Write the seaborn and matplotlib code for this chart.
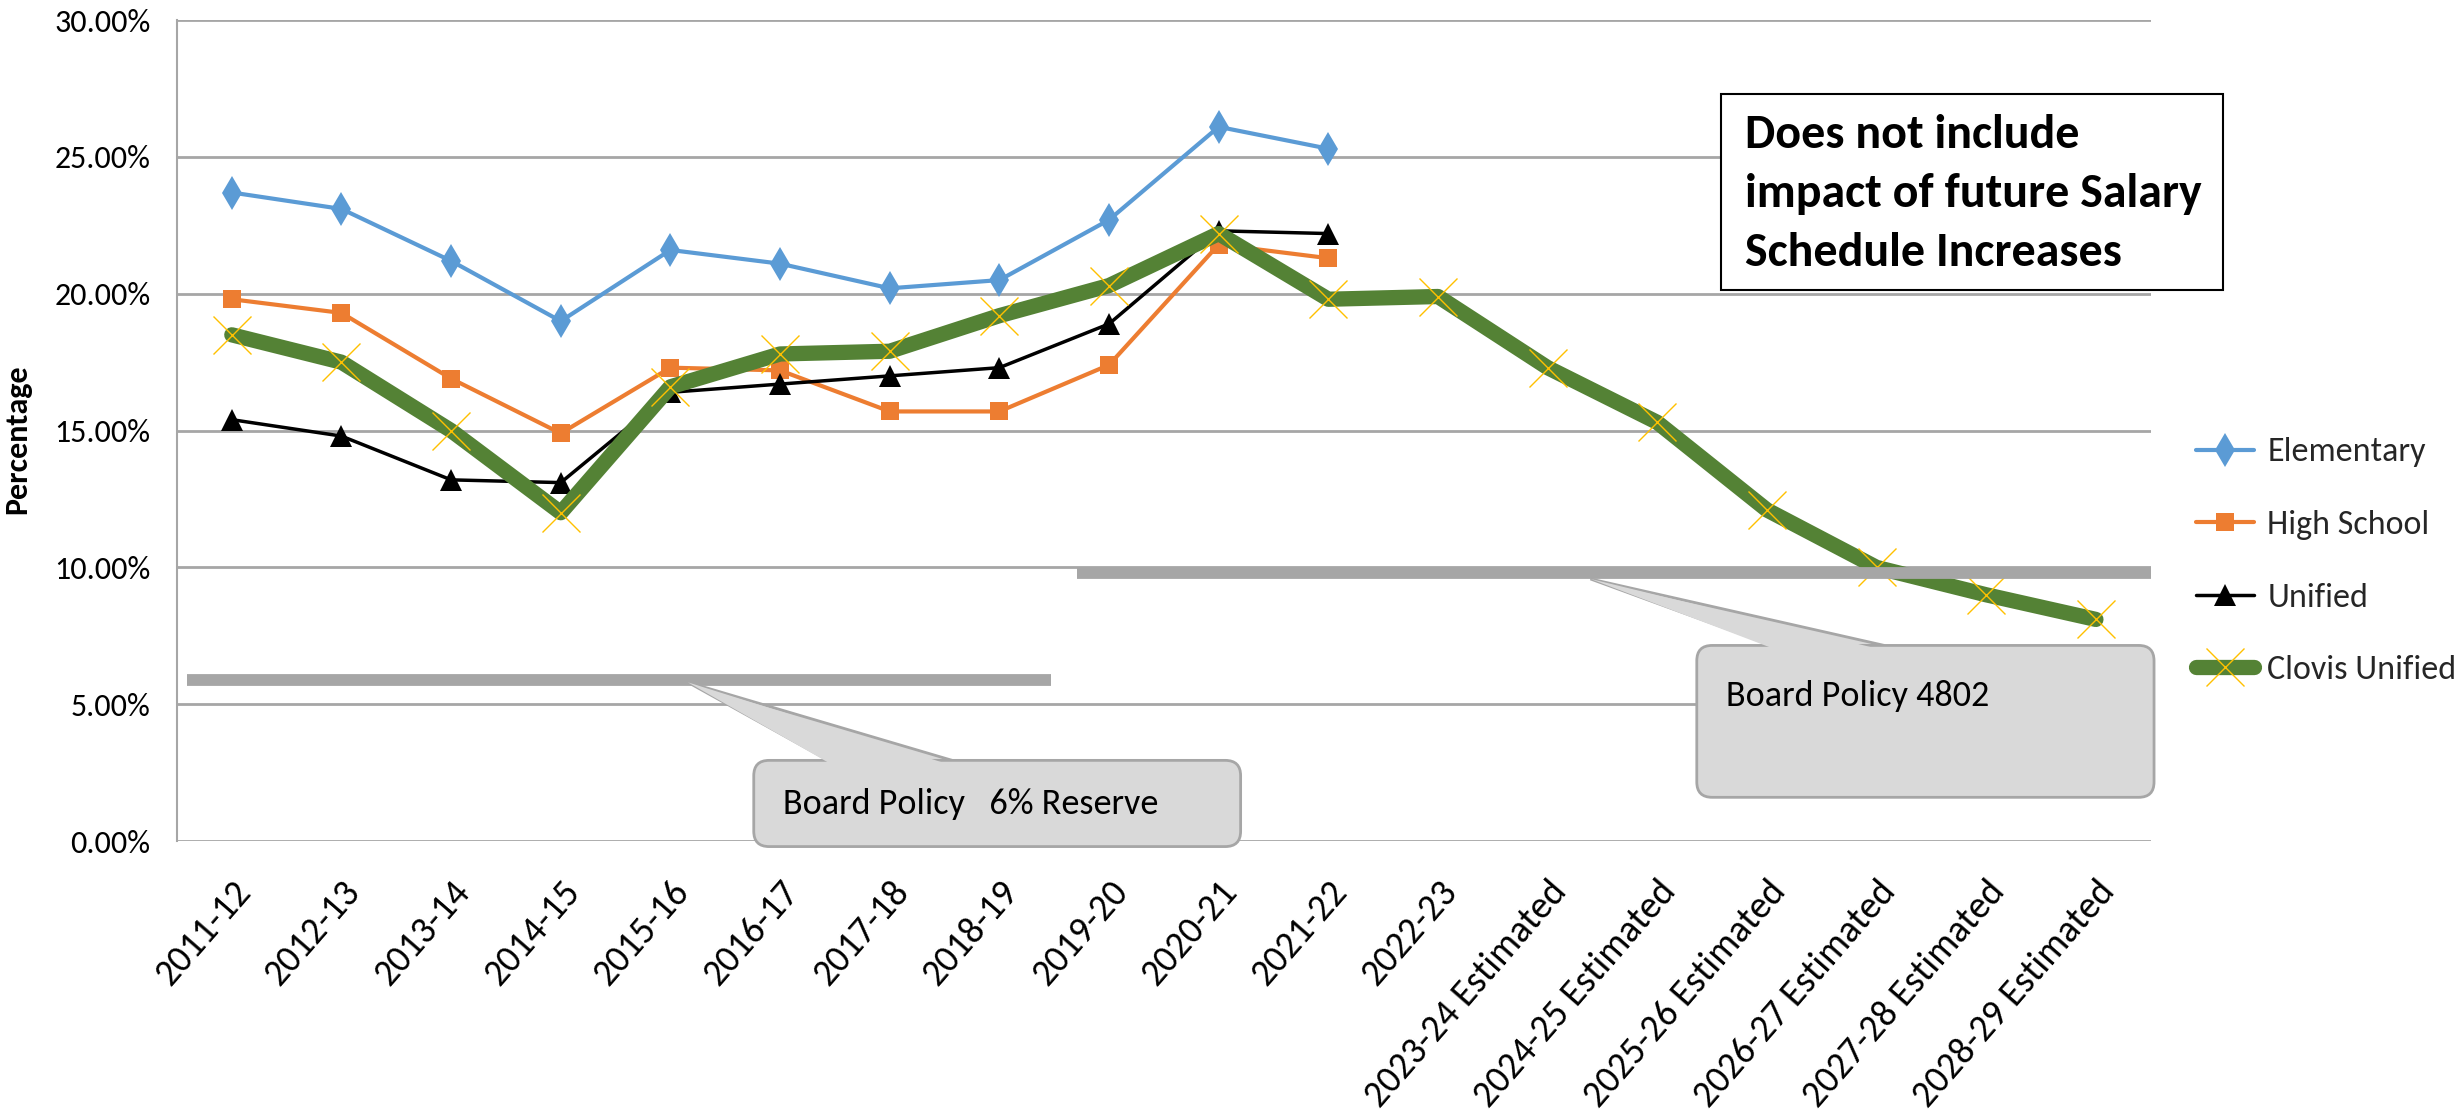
import numpy as np
import pandas as pd
import matplotlib
matplotlib.use('Agg')
import matplotlib.pyplot as plt
import seaborn as sns
from matplotlib.patches import FancyBboxPatch, Polygon, Rectangle

# -----------------------------
# data (percent)
years = ['2011-12', '2012-13', '2013-14', '2014-15', '2015-16', '2016-17',
         '2017-18', '2018-19', '2019-20', '2020-21', '2021-22', '2022-23',
         '2023-24 Estimated', '2024-25 Estimated', '2025-26 Estimated',
         '2026-27 Estimated', '2027-28 Estimated', '2028-29 Estimated']
elementary = [23.7, 23.1, 21.2, 19.0, 21.6, 21.1, 20.2, 20.5, 22.7, 26.1, 25.3]
high_school = [19.8, 19.3, 16.9, 14.9, 17.3, 17.2, 15.7, 15.7, 17.4, 21.8, 21.3]
unified = [15.4, 14.8, 13.2, 13.1, 16.4, 16.7, 17.0, 17.3, 18.9, 22.3, 22.2]
clovis = [18.5, 17.5, 15.0, 12.0, 16.6, 17.8, 17.9, 19.2, 20.3, 22.2, 19.8, 19.9,
          17.3, 15.3, 12.1, 10.0, 9.0, 8.1]

reserve_level = 5.9      # Board Policy 6% Reserve bar
policy_level = 9.8       # Board Policy 4802 bar

sns.set_theme(style='white')
# Carlito has the Calibri metrics of the original chart
plt.rcParams['font.family'] = ['Carlito', 'Roboto Condensed', 'DejaVu Sans']

fig = plt.figure(figsize=(24.58, 11.17), dpi=100)
ax = fig.add_axes([0.072, 0.247, 0.803, 0.735])

n = len(elementary)
x_all = np.arange(len(years))

# -----------------------------
# series
sns.lineplot(x=x_all[:n], y=elementary, ax=ax, color='#5b9bd5', linewidth=3,
             marker='d', markersize=17, markeredgewidth=0, label='Elementary', sort=False)
sns.lineplot(x=x_all[:n], y=high_school, ax=ax, color='#ed7d31', linewidth=3,
             marker='s', markersize=13, markeredgewidth=0, label='High School', sort=False)
sns.lineplot(x=x_all[:n], y=unified, ax=ax, color='black', linewidth=2.5,
             marker='^', markersize=16, markeredgewidth=0, label='Unified', sort=False)
sns.lineplot(x=x_all, y=clovis, ax=ax, color='#548235', linewidth=11,
             marker='x', markersize=28, markeredgewidth=1, markeredgecolor='#ffc000',
             label='Clovis Unified', sort=False)

# board policy bars
ax.hlines(reserve_level, -0.41, 7.47, color='#a6a6a6', linewidth=8.5, zorder=5)
ax.hlines(policy_level, 7.71, 17.5, color='#a6a6a6', linewidth=8.5, zorder=5)

# -----------------------------
# axes styling
ax.set_xlim(-0.5, 17.5)
ax.set_ylim(0, 30)
ax.set_yticks(np.arange(0, 31, 5))
ax.set_yticklabels(['{:.2f}%'.format(v) for v in np.arange(0, 31, 5)], fontsize=23)
ax.set_xticks(x_all)
ax.set_xticklabels(years, rotation=49, ha='right', rotation_mode='anchor', fontsize=27)
ax.tick_params(axis='both', length=0, colors='black')
ax.tick_params(axis='y', pad=19)
ax.tick_params(axis='x', pad=24)
ax.yaxis.grid(True, color='#a6a6a6', linewidth=2)
ax.set_axisbelow(True)
for s in ['top', 'right', 'bottom']:
    ax.spines[s].set_visible(False)
ax.spines['left'].set_color('#a6a6a6')
ax.spines['left'].set_linewidth(1.5)

ax.set_ylabel('Percentage', fontsize=23, fontweight='bold', color='black')
ax.yaxis.set_label_coords(-0.074, 0.49)
ax.set_xlabel('')


# -----------------------------
# callouts
def callout(box, tip, base, text, text_xy):
    x0, y0, x1, y1 = box
    face, edge = '#d9d9d9', '#a6a6a6'
    ptr = [(base[0], y1), tip, (base[1], y1)]
    ax.add_patch(Polygon(ptr, closed=True, facecolor=face, edgecolor=edge,
                         linewidth=2, zorder=6, clip_on=False))
    ax.add_patch(FancyBboxPatch((x0, y0), x1 - x0, y1 - y0,
                                boxstyle='round,pad=0,rounding_size=0.14',
                                mutation_aspect=4.0, facecolor=face, edgecolor=edge,
                                linewidth=2, zorder=6, clip_on=False))
    ax.add_patch(Polygon([(base[0] + 0.03, y1 - 0.15), tip, (base[1] - 0.03, y1 - 0.15)],
                         closed=True, facecolor=face, edgecolor='none',
                         zorder=7, clip_on=False))
    ax.text(text_xy[0], text_xy[1], text, fontsize=26, color='black',
            ha='left', va='center', zorder=8, clip_on=False)


callout((4.76, -0.2, 9.2, 2.95), (4.16, 5.8), (5.44, 6.57),
        'Board Policy   6% Reserve', (5.03, 1.35))
callout((13.36, 1.6, 17.53, 7.15), (12.39, 9.58), (14.05, 15.07),
        'Board Policy 4802', (13.63, 5.31))

# -----------------------------
# note box
fig.add_artist(Rectangle((0.700, 0.7404), 0.2044, 0.1754, transform=fig.transFigure,
                         facecolor='white', edgecolor='black', linewidth=1.5, zorder=9))
fig.text(0.710, 0.8263, 'Does not include\nimpact of future Salary\nSchedule Increases',
         fontsize=34.5, fontweight='bold', color='black', ha='left', va='center',
         linespacing=1.5, zorder=10)

# -----------------------------
# legend
handles, labels = ax.get_legend_handles_labels()
if ax.get_legend() is not None:
    ax.get_legend().remove()
fig.legend(handles, labels, loc='center left', bbox_to_anchor=(0.8865, 0.4975),
           frameon=False, borderpad=0, handlelength=1.7, handletextpad=0.4,
           labelspacing=1.25, fontsize=24.5)

fig.savefig('out.png', dpi=100)
